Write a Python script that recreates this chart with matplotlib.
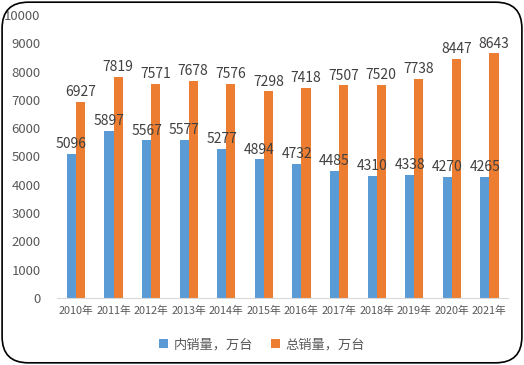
import matplotlib.pyplot as plt
import numpy as np
from matplotlib.patches import FancyBboxPatch

plt.rcParams['font.family'] = ['Noto Sans CJK SC', 'DejaVu Sans']

years = ['2010年', '2011年', '2012年', '2013年', '2014年', '2015年',
         '2016年', '2017年', '2018年', '2019年', '2020年', '2021年']
domestic = [5096, 5897, 5567, 5577, 5277, 4894, 4732, 4485, 4310, 4338, 4270, 4265]
total = [6927, 7819, 7571, 7678, 7576, 7298, 7418, 7507, 7520, 7738, 8447, 8643]

blue = '#5b9bd5'
orange = '#ed7d31'
grey = '#595959'

fig = plt.figure(figsize=(5.24, 3.65), dpi=100)
ax = fig.add_axes([0.109, 0.184, 0.861, 0.775])

x = np.arange(len(years))
w = 0.24
b1 = ax.bar(x - w / 2, domestic, w, color=blue, label='内销量，万台')
b2 = ax.bar(x + w / 2, total, w, color=orange, label='总销量，万台')

# 数据标签
for xi, v in zip(x, domestic):
    ax.text(xi - w / 2, v + 100, str(v), ha='center', va='bottom', fontsize=10, color='#404040')
for xi, v in zip(x, total):
    ax.text(xi + w / 2, v + 100, str(v), ha='center', va='bottom', fontsize=10, color='#404040')

ax.set_xlim(-0.5, len(years) - 0.5)
ax.set_ylim(0, 10000)
ax.set_yticks(range(0, 10001, 1000))
ax.set_xticks(x)
ax.set_xticklabels(years, fontsize=7.8, color=grey)
ax.tick_params(axis='y', labelsize=9.5, labelcolor=grey, length=0, pad=12)
ax.tick_params(axis='x', length=0, pad=6)
for s in ['top', 'right', 'left']:
    ax.spines[s].set_visible(False)
ax.spines['bottom'].set_color('#d9d9d9')

fig.legend(handles=[b1, b2], loc='center', bbox_to_anchor=(0.5, 0.055), ncol=2,
           frameon=False, fontsize=9.5, handlelength=0.7, handleheight=0.7,
           columnspacing=1.4, handletextpad=0.4, labelcolor=grey)

# 圆角边框
frame = FancyBboxPatch((0.004, 0.006), 0.992, 0.988, boxstyle='round,pad=0,rounding_size=0.05',
                       transform=fig.transFigure, fill=False, edgecolor='black', linewidth=1.2,
                       mutation_aspect=524 / 365)
fig.patches.append(frame)

plt.savefig('out.png', dpi=100)
